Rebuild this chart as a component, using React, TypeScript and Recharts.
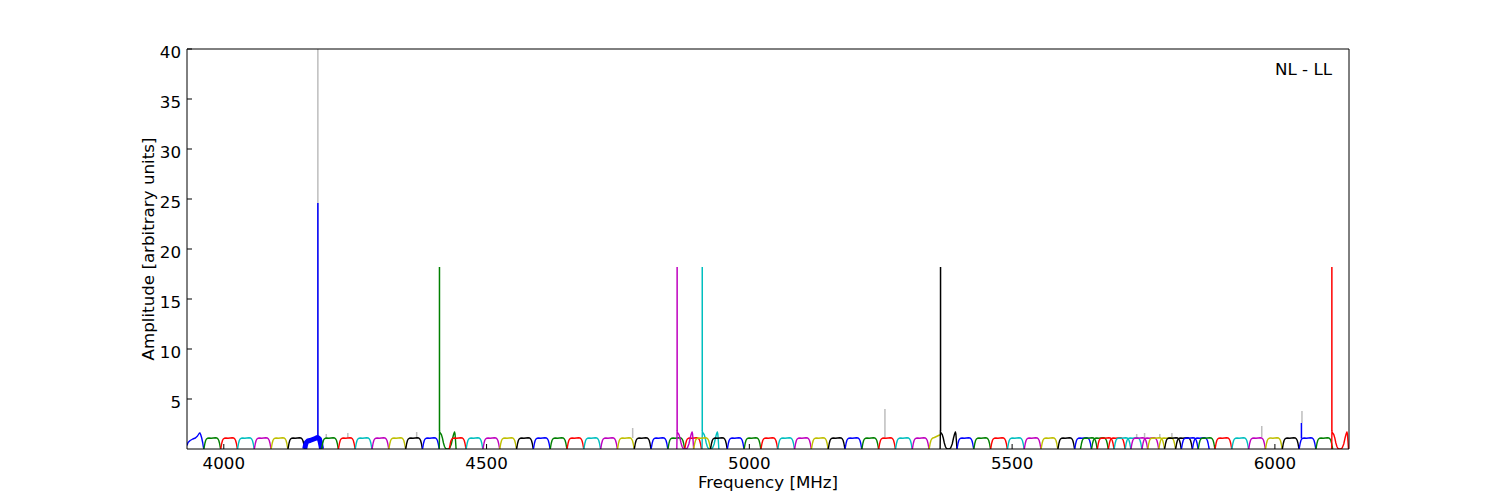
import { LineChart, Line, XAxis, YAxis } from 'recharts';

// matplotlib classic colour letters
const COLOR: Record<string, string> = {
  b: '#0000ff',
  g: '#008000',
  r: '#ff0000',
  c: '#00bfbf',
  m: '#bf00bf',
  y: '#bfbf00',
  k: '#000000',
  gray: '#bebebe',
};

// start frequency of every 32 MHz sub-band [MHz]
const BAND_START = [
  3930, 3962, 3994, 4026, 4058, 4090, 4122, 4154, 4186, 4218, 4250, 4282, 4314, 4346, 4378, 4410,
  4429, 4461, 4493, 4525, 4557, 4589, 4621, 4653, 4685, 4717, 4749, 4781, 4813, 4845, 4877, 4910,
  4862, 4894, 4926, 4958, 4990, 5022, 5054, 5086, 5118, 5150, 5182, 5214, 5246, 5278, 5310, 5342,
  5363, 5395, 5427, 5459, 5491, 5523, 5555, 5587, 5619, 5651, 5683, 5715, 5747, 5779, 5811, 5843,
  5630, 5662, 5694, 5726, 5758, 5790, 5822, 5854, 5886, 5918, 5950, 5982, 6014, 6046, 6078, 6108,
];

const BAND_COLOR = [
  'b', 'g', 'r', 'c', 'm', 'y', 'k', 'b', 'g', 'r', 'c', 'm', 'y', 'k', 'b', 'g',
  'r', 'c', 'm', 'y', 'k', 'b', 'g', 'r', 'c', 'm', 'y', 'k', 'b', 'g', 'r', 'c',
  'm', 'y', 'k', 'b', 'g', 'r', 'c', 'm', 'y', 'k', 'b', 'g', 'r', 'c', 'm', 'y',
  'k', 'b', 'g', 'r', 'c', 'm', 'y', 'k', 'b', 'g', 'r', 'c', 'm', 'y', 'k', 'b',
  'g', 'r', 'c', 'm', 'y', 'k', 'b', 'g', 'r', 'c', 'm', 'y', 'k', 'b', 'g', 'r',
];

// bandpass profile of each sub-band (default: flat)
const BAND_KIND: Record<number, string> = {
  0: 'ramp',
  7: 'noisy',
  15: 'notch',
  31: 'notch',
  32: 'notch',
  47: 'cut',
  48: 'notch',
  79: 'notch',
};

// profiles: channel offset [MHz] -> amplitude, read off typical bands
const FLAT_OFF = [0, 1, 2, 3.5, 5, 7, 10, 14, 18, 22, 25, 27, 28.5, 30, 31, 32];
const FLAT_AMP = [0, 0.25, 0.55, 0.85, 1.0, 1.07, 1.1, 1.08, 1.1, 1.12, 1.1, 1.0, 0.85, 0.55, 0.25, 0];

const RAMP_OFF = [0, 2, 6, 11, 16, 20, 23, 24.5, 26, 28, 30, 31, 32];
const RAMP_AMP = [0.35, 0.65, 0.85, 1.0, 1.1, 1.3, 1.55, 1.6, 1.45, 1.1, 0.6, 0.25, 0];

const NOISY_OFF = [0, 1.5, 3, 6, 10, 15, 20, 24, 26, 28, 29.5, 31, 32];
const NOISY_AMP = [0, 0.4, 0.65, 0.8, 0.85, 0.95, 1.05, 1.15, 1.1, 1.0, 0.7, 0.3, 0];

const NOTCH_OFF = [0, 0.5, 1, 2.5, 4, 6, 8, 10, 12, 14, 17, 20, 23, 25.5, 27.5, 29, 30, 31, 32];
const NOTCH_AMP = [0, 1.8, 1.7, 1.55, 1.45, 1.1, 0.6, 0.25, 0.05, 0, 0, 0.1, 0.5, 1.1, 1.5, 1.7, 1.5, 0.8, 0];

const CUT_OFF = [0, 1, 2, 3.5, 5, 7, 10, 14, 18, 20, 21.5];
const CUT_AMP = [0, 0.25, 0.55, 0.85, 1.0, 1.1, 1.15, 1.25, 1.35, 1.4, 1.35];

// narrow spikes (RFI)
const SPIKE_FREQ = [4179, 4410.4, 4862.6, 4910.4, 5363.8, 6108.4, 6050.5];
const SPIKE_TOP = [24.6, 18.2, 18.2, 18.2, 18.2, 18.2, 2.6];
const SPIKE_BASE = [1.2, 1.8, 1.8, 1.8, 1.8, 1.8, 1.05];
const SPIKE_COLOR = ['b', 'g', 'm', 'c', 'k', 'r', 'b'];

// grey (other polarisation) spikes
const GREY_FREQ = [3954, 4195, 4236, 4367, 4179, 4778, 5258, 5737, 5752, 5781, 5804, 5975, 6051.5];
const GREY_TOP = [1.7, 1.5, 1.6, 1.7, 42, 2.1, 4.0, 1.5, 1.6, 1.5, 1.6, 2.3, 3.8];
const GREY_BASE = [1.5, 1.1, 1.1, 1.1, 1.2, 1.1, 1.15, 1.1, 1.1, 1.1, 1.1, 1.2, 2.6];

const X_TICKS = [4000, 4500, 5000, 5500, 6000];
const Y_TICKS = [5, 10, 15, 20, 25, 30, 35, 40];

const PROFILE: Record<string, [number[], number[]]> = {
  flat: [FLAT_OFF, FLAT_AMP],
  ramp: [RAMP_OFF, RAMP_AMP],
  noisy: [NOISY_OFF, NOISY_AMP],
  notch: [NOTCH_OFF, NOTCH_AMP],
  cut: [CUT_OFF, CUT_AMP],
};

const bands = BAND_START.map((start, i) => {
  const kind = BAND_KIND[i] || 'flat';
  const [off, amp] = PROFILE[kind];
  return {
    key: `band-${i}`,
    kind,
    color: COLOR[BAND_COLOR[i]],
    data: off.map((o, j) => ({ f: start + o, a: amp[j] })),
  };
});

const spikeData = (f: number, base: number, top: number) => [
  { f, a: base },
  { f, a: top },
  { f: f + 0.05, a: base },
];

const FONT = '"DejaVu Sans", sans-serif';
const FS = 16.7;
const textStyle = {
  position: 'absolute' as const,
  fontFamily: FONT,
  fontSize: FS,
  lineHeight: '16px',
  color: '#000',
  whiteSpace: 'nowrap' as const,
};

const YTick = ({ x, y, payload }: any) => (
  <text x={x} y={y + 3} textAnchor="end" dominantBaseline="central" fill="#000" fontSize={FS} fontFamily={FONT}>
    {payload.value}
  </text>
);

export default function App() {
  return (
    <div style={{ position: 'absolute', left: 0, top: 0, width: 1500, height: 500, background: '#fff' }}>
      <LineChart width={1500} height={500} margin={{ top: 48, right: 150, bottom: 21, left: 127 }}>
        <XAxis
          xAxisId="b"
          dataKey="f"
          type="number"
          domain={[3930, 6141]}
          ticks={X_TICKS}
          interval={0}
          allowDataOverflow
          height={30}
          stroke="#000"
          tickSize={-5}
          tickMargin={13}
          tick={{ fill: '#000', fontSize: FS, fontFamily: FONT }}
        />
        <XAxis
          xAxisId="t"
          orientation="top"
          dataKey="f"
          type="number"
          domain={[3930, 6141]}
          ticks={X_TICKS}
          interval={0}
          allowDataOverflow
          height={1}
          stroke="#000"
          tickSize={-5}
          tick={false}
        />
        <YAxis
          yAxisId="l"
          type="number"
          domain={[0, 40]}
          ticks={Y_TICKS}
          interval={0}
          allowDataOverflow
          width={60}
          stroke="#000"
          tickSize={-5}
          tickMargin={11}
          tick={YTick}
        />
        <YAxis
          yAxisId="r"
          orientation="right"
          type="number"
          domain={[0, 40]}
          ticks={Y_TICKS}
          interval={0}
          allowDataOverflow
          width={1}
          stroke="#000"
          tickSize={-5}
          tick={false}
        />

        {GREY_FREQ.map((f, i) => (
          <Line
            key={`grey-${i}`}
            xAxisId="b"
            yAxisId="l"
            data={spikeData(f, GREY_BASE[i], GREY_TOP[i])}
            dataKey="a"
            stroke={COLOR.gray}
            strokeWidth={1.5}
            dot={false}
            isAnimationActive={false}
          />
        ))}

        {bands.map((b) => (
          <Line
            key={b.key}
            xAxisId="b"
            yAxisId="l"
            data={b.data}
            dataKey="a"
            stroke={b.color}
            strokeWidth={b.kind === 'noisy' ? 5 : 1.4}
            strokeLinejoin="round"
            dot={false}
            isAnimationActive={false}
          />
        ))}

        {SPIKE_FREQ.map((f, i) => (
          <Line
            key={`spike-${i}`}
            xAxisId="b"
            yAxisId="l"
            data={spikeData(f, SPIKE_BASE[i], SPIKE_TOP[i])}
            dataKey="a"
            stroke={COLOR[SPIKE_COLOR[i]]}
            strokeWidth={1.5}
            dot={false}
            isAnimationActive={false}
          />
        ))}
      </LineChart>

      <div style={{ ...textStyle, left: 768, top: 474, transform: 'translateX(-50%)' }}>Frequency [MHz]</div>
      <div
        style={{
          ...textStyle,
          left: 147.5 - 150,
          top: 249 - 8,
          width: 300,
          textAlign: 'center',
          transform: 'rotate(-90deg)',
        }}
      >
        Amplitude [arbitrary units]
      </div>
      <div style={{ ...textStyle, left: 1132, top: 61, width: 200, textAlign: 'right' }}>NL - LL</div>
    </div>
  );
}
